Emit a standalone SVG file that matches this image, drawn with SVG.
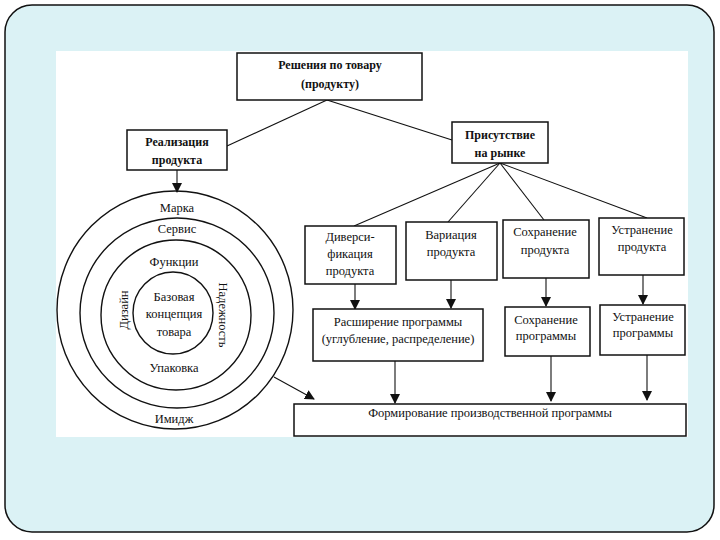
<svg xmlns="http://www.w3.org/2000/svg" width="720" height="540" viewBox="0 0 720 540">
<defs>
<style>
.box{fill:#fff;stroke:#111;stroke-width:1.5}
.ln{stroke:#111;stroke-width:1.1;fill:none}
.ring{fill:none;stroke:#111;stroke-width:1.4}
.t{font-family:"Liberation Serif","Times New Roman",serif;font-size:12.5px;fill:#111;text-anchor:middle}
.b{font-weight:bold;font-size:12px}
</style>
<marker id="ah" markerWidth="10" markerHeight="10" refX="9" refY="5" orient="auto" markerUnits="userSpaceOnUse">
<path d="M0,0 L10,5 L0,10 Z" fill="#111"/>
</marker>
</defs>
<rect x="0" y="0" width="720" height="540" fill="#fff"/>
<rect x="5" y="5" width="709" height="527" rx="27" ry="27" fill="#dbf2f5" stroke="#111" stroke-width="1.5"/>
<rect x="56" y="51" width="632" height="386" fill="#fff"/>

<g id="connectors">
<line class="ln" x1="327" y1="100" x2="227" y2="146"/>
<line class="ln" x1="327" y1="100" x2="452" y2="140"/>
<line class="ln" x1="177" y1="170" x2="177" y2="192" marker-end="url(#ah)"/>
<line class="ln" x1="500" y1="163" x2="354" y2="226"/>
<line class="ln" x1="500" y1="163" x2="448" y2="222"/>
<line class="ln" x1="500" y1="163" x2="544" y2="220"/>
<line class="ln" x1="500" y1="163" x2="647" y2="218"/>
<line class="ln" x1="355" y1="284" x2="355" y2="309" marker-end="url(#ah)"/>
<line class="ln" x1="451" y1="280" x2="451" y2="308" marker-end="url(#ah)"/>
<line class="ln" x1="546" y1="278" x2="546" y2="306" marker-end="url(#ah)"/>
<line class="ln" x1="643" y1="275" x2="643" y2="304" marker-end="url(#ah)"/>
<line class="ln" x1="395" y1="361" x2="395" y2="403" marker-end="url(#ah)"/>
<line class="ln" x1="551" y1="356" x2="551" y2="401" marker-end="url(#ah)"/>
<line class="ln" x1="647" y1="355" x2="647" y2="400" marker-end="url(#ah)"/>
<line class="ln" x1="274" y1="377" x2="314" y2="399" marker-end="url(#ah)"/>
</g>

<g id="n-top">
<rect class="box" x="237" y="53" width="185" height="47"/>
<text class="t b" x="330" y="69">Решения по товару</text>
<text class="t b" x="330" y="88">(продукту)</text>
</g>
<g id="n-real">
<rect class="box" x="127" y="130" width="100" height="40"/>
<text class="t b" x="177" y="146">Реализация</text>
<text class="t b" x="177" y="164">продукта</text>
</g>
<g id="n-pris">
<rect class="box" x="452" y="122" width="96" height="41"/>
<text class="t b" x="500" y="139">Присутствие</text>
<text class="t b" x="500" y="157">на рынке</text>
</g>

<g id="n-circles">
<ellipse class="ring" cx="175" cy="310" rx="118" ry="119"/>
<ellipse class="ring" cx="177" cy="313" rx="97" ry="95"/>
<ellipse class="ring" cx="176" cy="315" rx="75" ry="75"/>
<ellipse class="ring" cx="173" cy="313" rx="40" ry="41"/>
<text class="t" x="177" y="212">Марка</text>
<text class="t" x="177" y="233">Сервис</text>
<text class="t" x="174" y="266">Функции</text>
<text class="t" x="174" y="301">Базовая</text>
<text class="t" x="174" y="318">концепция</text>
<text class="t" x="174" y="336">товара</text>
<text class="t" transform="translate(128,310) rotate(-90)">Дизайн</text>
<text class="t" transform="translate(219,315) rotate(90)">Надежность</text>
<text class="t" x="174" y="372">Упаковка</text>
<text class="t" x="174" y="423">Имидж</text>
</g>

<g id="n-div">
<rect class="box" x="305" y="226" width="91" height="58"/>
<text class="t" x="350" y="241">Диверси-</text>
<text class="t" x="350" y="258">фикация</text>
<text class="t" x="350" y="275">продукта</text>
</g>
<g id="n-var">
<rect class="box" x="406" y="222" width="91" height="58"/>
<text class="t" x="451" y="239">Вариация</text>
<text class="t" x="451" y="256">продукта</text>
</g>
<g id="n-soh">
<rect class="box" x="503" y="220" width="86" height="58"/>
<text class="t" x="545" y="236">Сохранение</text>
<text class="t" x="545" y="254">продукта</text>
</g>
<g id="n-ust">
<rect class="box" x="599" y="218" width="85" height="57"/>
<text class="t" x="642" y="234">Устранение</text>
<text class="t" x="642" y="251">продукта</text>
</g>

<g id="n-rasp">
<rect class="box" x="313" y="309" width="170" height="52"/>
<text class="t" x="398" y="326">Расширение программы</text>
<text class="t" x="398" y="343">(углубление, распределение)</text>
</g>
<g id="n-sohp">
<rect class="box" x="505" y="307" width="85" height="49"/>
<text class="t" x="546" y="324">Сохранение</text>
<text class="t" x="546" y="340">программы</text>
</g>
<g id="n-ustp">
<rect class="box" x="600" y="305" width="85" height="50"/>
<text class="t" x="643" y="321">Устранение</text>
<text class="t" x="643" y="337">программы</text>
</g>

<g id="n-form">
<rect class="box" x="294" y="404" width="392" height="32"/>
<text class="t" x="490" y="417">Формирование производственной программы</text>
</g>
</svg>
